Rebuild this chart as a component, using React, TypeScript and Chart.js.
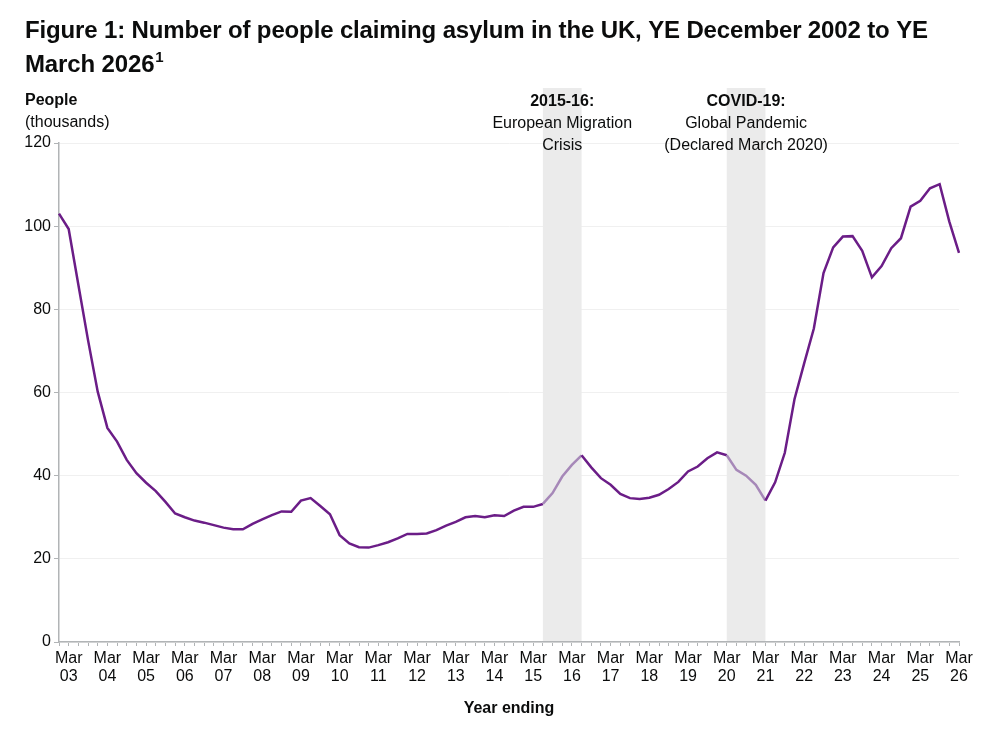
import { useEffect, useRef } from "react"
import { Chart, registerables } from "chart.js"

Chart.register(...registerables)

// quarterly year-ending labels, YE Dec 2002 to YE Mar 2026
const quarterNames = ["Mar", "Jun", "Sep", "Dec"]
const labels: string[] = ["Dec 02"]
for (let y = 3; y <= 26; y++) {
  for (const q of quarterNames) {
    if (y === 26 && q !== "Mar") break
    labels.push(`${q} ${String(y).padStart(2, "0")}`)
  }
}

// people claiming asylum (thousands)
const claims = [
  103.0, 99.3, 85.9, 72.6, 60.2, 51.5, 48.2, 43.8, 40.6, 38.3,
  36.3, 33.7, 30.9, 30.0, 29.2, 28.7, 28.1, 27.5, 27.1, 27.1,
  28.4, 29.5, 30.5, 31.4, 31.3, 34.0, 34.6, 32.7, 30.7, 25.7,
  23.7, 22.8, 22.7, 23.3, 24.0, 24.9, 26.0, 26.0, 26.1, 26.9,
  28.0, 28.9, 30.0, 30.3, 30.0, 30.5, 30.3, 31.6, 32.5, 32.5,
  33.2, 35.8, 39.8, 42.6, 44.9, 42.0, 39.4, 37.8, 35.6, 34.6,
  34.4, 34.7, 35.4, 36.8, 38.5, 41.0, 42.2, 44.2, 45.6, 44.9,
  41.4, 40.0, 37.8, 34.0, 38.4, 45.5, 58.4, 67.0, 75.4, 88.7,
  94.9, 97.5, 97.6, 94.1, 87.7, 90.4, 94.7, 97.1, 104.7, 106.1,
  109.1, 110.1, 101.1, 93.6,
]

const yTicks = [0, 20, 40, 60, 80, 100, 120]

// shaded periods (start, end label) with their notes
const bandStarts = ["Jun 15", "Mar 20"]
const bandEnds = ["Jun 16", "Mar 21"]
const bandHeads = ["2015-16:", "COVID-19:"]
const bandNotes = [
  ["European Migration", "Crisis"],
  ["Global Pandemic", "(Declared March 2020)"],
]

const DARK = "#6b1d87"
const LIGHT = "#a688b8"
const FONT = "'Liberation Sans', Arial, sans-serif"

const inBand = (i0: number, i1: number) =>
  bandStarts.some((s, k) => i0 >= labels.indexOf(s) && i1 <= labels.indexOf(bandEnds[k]))

const decorations = {
  id: "decorations",
  beforeDatasetsDraw(chart: Chart) {
    const { ctx, chartArea } = chart
    const x = chart.scales.x
    ctx.save()
    ctx.fillStyle = "#ebebeb"
    bandStarts.forEach((s, k) => {
      const x0 = x.getPixelForValue(labels.indexOf(s))
      const x1 = x.getPixelForValue(labels.indexOf(bandEnds[k]))
      ctx.fillRect(x0, chartArea.top - 55, x1 - x0, chartArea.bottom - chartArea.top + 54)
    })
    ctx.restore()
  },
  afterDraw(chart: Chart) {
    const { ctx, chartArea } = chart
    const x = chart.scales.x
    const top = chartArea.top
    ctx.save()
    ctx.fillStyle = "#0b0c0c"
    ctx.textBaseline = "alphabetic"

    // title
    ctx.textAlign = "left"
    ctx.font = `bold 24px ${FONT}`
    const line1 = "Figure 1: Number of people claiming asylum in the UK, YE December 2002 to YE"
    const w = ctx.measureText(line1).width
    ;(ctx as any).letterSpacing = `${(903 - w) / (line1.length - 1)}px`
    ctx.fillText(line1, 25, 38)
    ctx.fillText("March 2026", 25, 72)
    const w2 = ctx.measureText("March 2026").width
    ;(ctx as any).letterSpacing = "0px"
    ctx.font = `bold 15px ${FONT}`
    ctx.fillText("1", 25 + w2 + 1, 62)

    // y axis title
    ctx.font = `bold 16px ${FONT}`
    ctx.fillText("People", 25, top - 38)
    ctx.font = `16px ${FONT}`
    ctx.fillText("(thousands)", 25, top - 16)

    // band notes
    ctx.textAlign = "center"
    bandStarts.forEach((s, k) => {
      const cx =
        (x.getPixelForValue(labels.indexOf(s)) + x.getPixelForValue(labels.indexOf(bandEnds[k]))) / 2
      ctx.font = `bold 16px ${FONT}`
      ctx.fillText(bandHeads[k], cx, top - 37)
      ctx.font = `16px ${FONT}`
      bandNotes[k].forEach((t, j) => ctx.fillText(t, cx, top - 15 + j * 22))
    })

    // x axis title
    ctx.font = `bold 16px ${FONT}`
    ctx.fillText("Year ending", (chartArea.left + chartArea.right) / 2, 713)
    ctx.restore()
  },
}

export default function App() {
  const chartRef = useRef<HTMLCanvasElement>(null)
  const chartInstance = useRef<Chart | null>(null)

  useEffect(() => {
    document.body.style.margin = "0"
    if (!chartRef.current) return
    const ctx = chartRef.current.getContext("2d")
    if (!ctx) return
    if (chartInstance.current) chartInstance.current.destroy()

    chartInstance.current = new Chart(ctx, {
      type: "line",
      data: {
        labels,
        datasets: [
          {
            data: claims,
            borderColor: DARK,
            borderWidth: 2.5,
            pointRadius: 0,
            tension: 0,
            segment: {
              borderColor: (c: any) => (inBand(c.p0DataIndex, c.p1DataIndex) ? LIGHT : DARK),
            },
          },
        ],
      },
      options: {
        responsive: true,
        maintainAspectRatio: false,
        animation: false,
        layout: { padding: { top: 143, right: 41, left: 0, bottom: 0 } },
        plugins: {
          legend: { display: false },
          tooltip: { enabled: false },
          title: { display: false },
        },
        scales: {
          x: {
            type: "category",
            offset: false,
            afterFit: (scale: any) => {
              scale.height = 94
            },
            border: { color: "#b1b4b6", width: 1.5 },
            grid: {
              drawOnChartArea: false,
              drawTicks: true,
              tickLength: 4,
              tickColor: "#b1b4b6",
            },
            ticks: {
              autoSkip: false,
              maxRotation: 0,
              minRotation: 0,
              padding: 3,
              color: "#0b0c0c",
              font: { family: FONT, size: 16, lineHeight: 1.15 },
              callback: (_v: any, i: number) => {
                const l = labels[i]
                return l.startsWith("Mar") ? ["Mar", l.slice(4)] : ""
              },
            },
          },
          y: {
            min: 0,
            max: 120,
            afterFit: (scale: any) => {
              scale.width = 59
            },
            afterBuildTicks: (scale: any) => {
              scale.ticks = yTicks.map((v) => ({ value: v }))
            },
            border: { color: "#b1b4b6", width: 1.5 },
            grid: {
              color: "#f0f0f0",
              tickColor: "#b1b4b6",
              tickLength: 5,
            },
            ticks: {
              padding: 3,
              color: "#0b0c0c",
              font: { family: FONT, size: 16 },
            },
          },
        },
      },
      plugins: [decorations],
    })

    return () => {
      if (chartInstance.current) {
        chartInstance.current.destroy()
        chartInstance.current = null
      }
    }
  }, [])

  return (
    <div style={{ position: "relative", width: 1000, height: 736 }}>
      <canvas ref={chartRef} />
    </div>
  )
}
